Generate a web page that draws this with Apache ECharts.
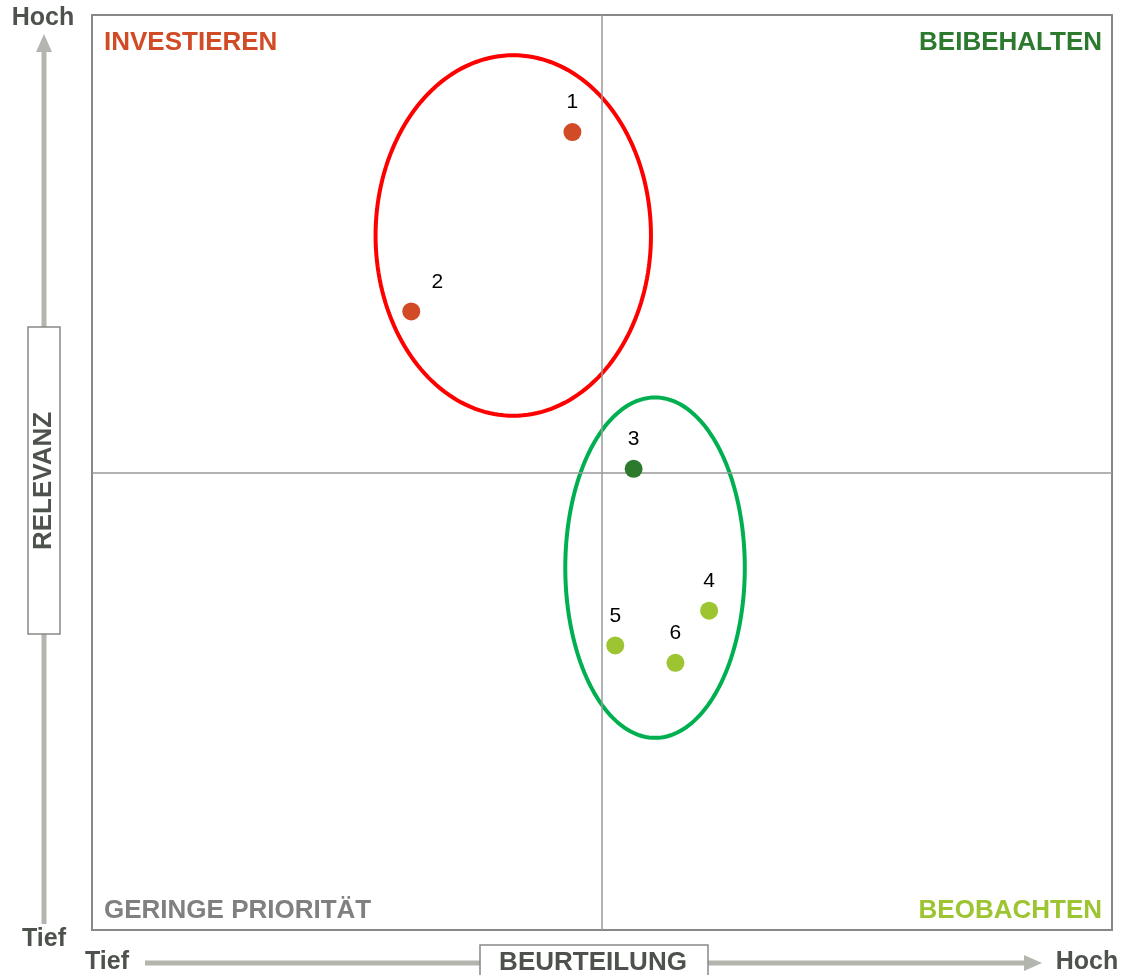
<!DOCTYPE html>
<html>
<head>
<meta charset="utf-8">
<style>
  html, body { margin: 0; padding: 0; background: #fff; }
  #chart { width: 1124px; height: 975px; }
</style>
<script src="https://cdn.jsdelivr.net/npm/echarts@6/dist/echarts.min.js"></script>
</head>
<body>
<div id="chart"></div>
<script>
// Daten: Beurteilung (x) und Relevanz (y), 0..100
var labels = ['1', '2', '3', '4', '5', '6'];
var beurteilung = [47.1, 31.3, 53.1, 60.5, 51.3, 57.2];
var relevanz = [87.2, 67.6, 50.4, 34.9, 31.1, 29.2];
var pointColors = ['#d24b27', '#d24b27', '#2b7a2e', '#9dc431', '#9dc431', '#9dc431'];

// Gruppen-Ellipsen: Mittelpunkt x, y und Radien rx, ry (in Achsenwerten)
var ellipseCx = [41.3, 55.2];
var ellipseCy = [75.9, 39.6];
var ellipseRx = [13.5, 8.8];
var ellipseRy = [19.7, 18.6];
var ellipseColors = ['#ff0000', '#00b050'];

var quadrantNames = ['INVESTIEREN', 'BEIBEHALTEN', 'GERINGE PRIORITÄT', 'BEOBACHTEN'];
var quadrantColors = ['#d24b27', '#2b7a2e', '#808080', '#9dc431'];

var myChart = echarts.init(document.getElementById('chart'));

var font = '"Liberation Sans", Arial, sans-serif';
var axisGrey = '#b3b5af';
var textGrey = '#4d524d';

var scatterData = labels.map(function (l, i) {
    var d = {
        name: l,
        value: [beurteilung[i], relevanz[i]],
        itemStyle: { color: pointColors[i], opacity: 1 }
    };
    // Punkt 2: Beschriftung rechts oben
    if (l === '2') d.label = { offset: [26, 0] };
    return d;
});

var ellipseData = ellipseCx.map(function (cx, i) {
    return [cx, ellipseCy[i], ellipseRx[i], ellipseRy[i], i];
});

function txt(text, color, size, pos) {
    var el = {
        type: 'text',
        style: {
            text: text,
            fill: color,
            fontSize: size,
            fontWeight: 'bold',
            fontFamily: font,
            align: 'center',
            verticalAlign: 'middle'
        }
    };
    for (var k in pos) el[k] = pos[k];
    return el;
}

function quadText(text, color, pos) {
    var el = {
        type: 'text',
        style: {
            text: text,
            fill: color,
            fontSize: 26,
            fontWeight: 'bold',
            fontFamily: font
        }
    };
    for (var k in pos) el[k] = pos[k];
    return el;
}

var option = {
    animation: false,
    grid: {
        left: 92,
        right: 12,
        top: 15,
        bottom: 45,
        show: true,
        borderColor: '#888888',
        borderWidth: 2,
        backgroundColor: '#ffffff'
    },
    xAxis: {
        type: 'value',
        min: 0,
        max: 100,
        axisLine: { show: false },
        axisTick: { show: false },
        axisLabel: { show: false },
        splitLine: { show: false }
    },
    yAxis: {
        type: 'value',
        min: 0,
        max: 100,
        axisLine: { show: false },
        axisTick: { show: false },
        axisLabel: { show: false },
        splitLine: { show: false }
    },
    series: [
        {
            type: 'scatter',
            symbolSize: 18,
            data: scatterData,
            z: 5,
            label: {
                show: true,
                position: 'top',
                distance: 10,
                formatter: '{b}',
                color: '#000',
                fontSize: 21,
                fontFamily: font
            },
            emphasis: { disabled: true },
            markLine: {
                silent: true,
                symbol: 'none',
                label: { show: false },
                lineStyle: { color: '#999999', width: 1.5, type: 'solid', opacity: 1 },
                data: [{ xAxis: 50 }, { yAxis: 50 }]
            }
        },
        {
            type: 'custom',
            silent: true,
            z: 4,
            data: ellipseData,
            renderItem: function (params, api) {
                var c = api.coord([api.value(0), api.value(1)]);
                var s = api.size([api.value(2), api.value(3)]);
                var pts = [];
                for (var k = 0; k < 180; k++) {
                    var t = k / 180 * Math.PI * 2;
                    pts.push([c[0] + s[0] * Math.cos(t), c[1] + s[1] * Math.sin(t)]);
                }
                return {
                    type: 'polygon',
                    shape: { points: pts },
                    style: {
                        fill: 'none',
                        stroke: ellipseColors[api.value(4)],
                        lineWidth: 4
                    }
                };
            }
        }
    ],
    graphic: [
        // Quadranten-Beschriftungen
        quadText(quadrantNames[0], quadrantColors[0], { left: 104, top: 30 }),
        quadText(quadrantNames[1], quadrantColors[1], { right: 22, top: 30 }),
        quadText(quadrantNames[2], quadrantColors[2], { left: 104, top: 898 }),
        quadText(quadrantNames[3], quadrantColors[3], { right: 22, top: 898 }),

        // vertikaler Pfeil (Relevanz)
        { type: 'line', shape: { x1: 44, y1: 924, x2: 44, y2: 50 }, style: { stroke: axisGrey, lineWidth: 5 } },
        { type: 'polygon', shape: { points: [[44, 34], [36, 52], [52, 52]] }, style: { fill: axisGrey } },
        { type: 'rect', shape: { x: 28, y: 327, width: 32, height: 307 }, style: { fill: '#fff', stroke: '#888', lineWidth: 1.5 } },
        txt('RELEVANZ', textGrey, 26, { x: 44, y: 481, rotation: Math.PI / 2 }),
        txt('Hoch', textGrey, 25, { x: 43, y: 18 }),
        txt('Tief', textGrey, 25, { x: 44, y: 939 }),

        // horizontaler Pfeil (Beurteilung)
        { type: 'line', shape: { x1: 145, y1: 963, x2: 1026, y2: 963 }, style: { stroke: axisGrey, lineWidth: 5 } },
        { type: 'polygon', shape: { points: [[1042, 963], [1024, 955], [1024, 971]] }, style: { fill: axisGrey } },
        { type: 'rect', shape: { x: 480, y: 945, width: 228, height: 40 }, style: { fill: '#fff', stroke: '#888', lineWidth: 1.5 } },
        txt('BEURTEILUNG', textGrey, 26, { x: 593, y: 963 }),
        txt('Tief', textGrey, 25, { x: 107, y: 962 }),
        txt('Hoch', textGrey, 25, { x: 1087, y: 962 })
    ]
};

myChart.setOption(option);
</script>
</body>
</html>
